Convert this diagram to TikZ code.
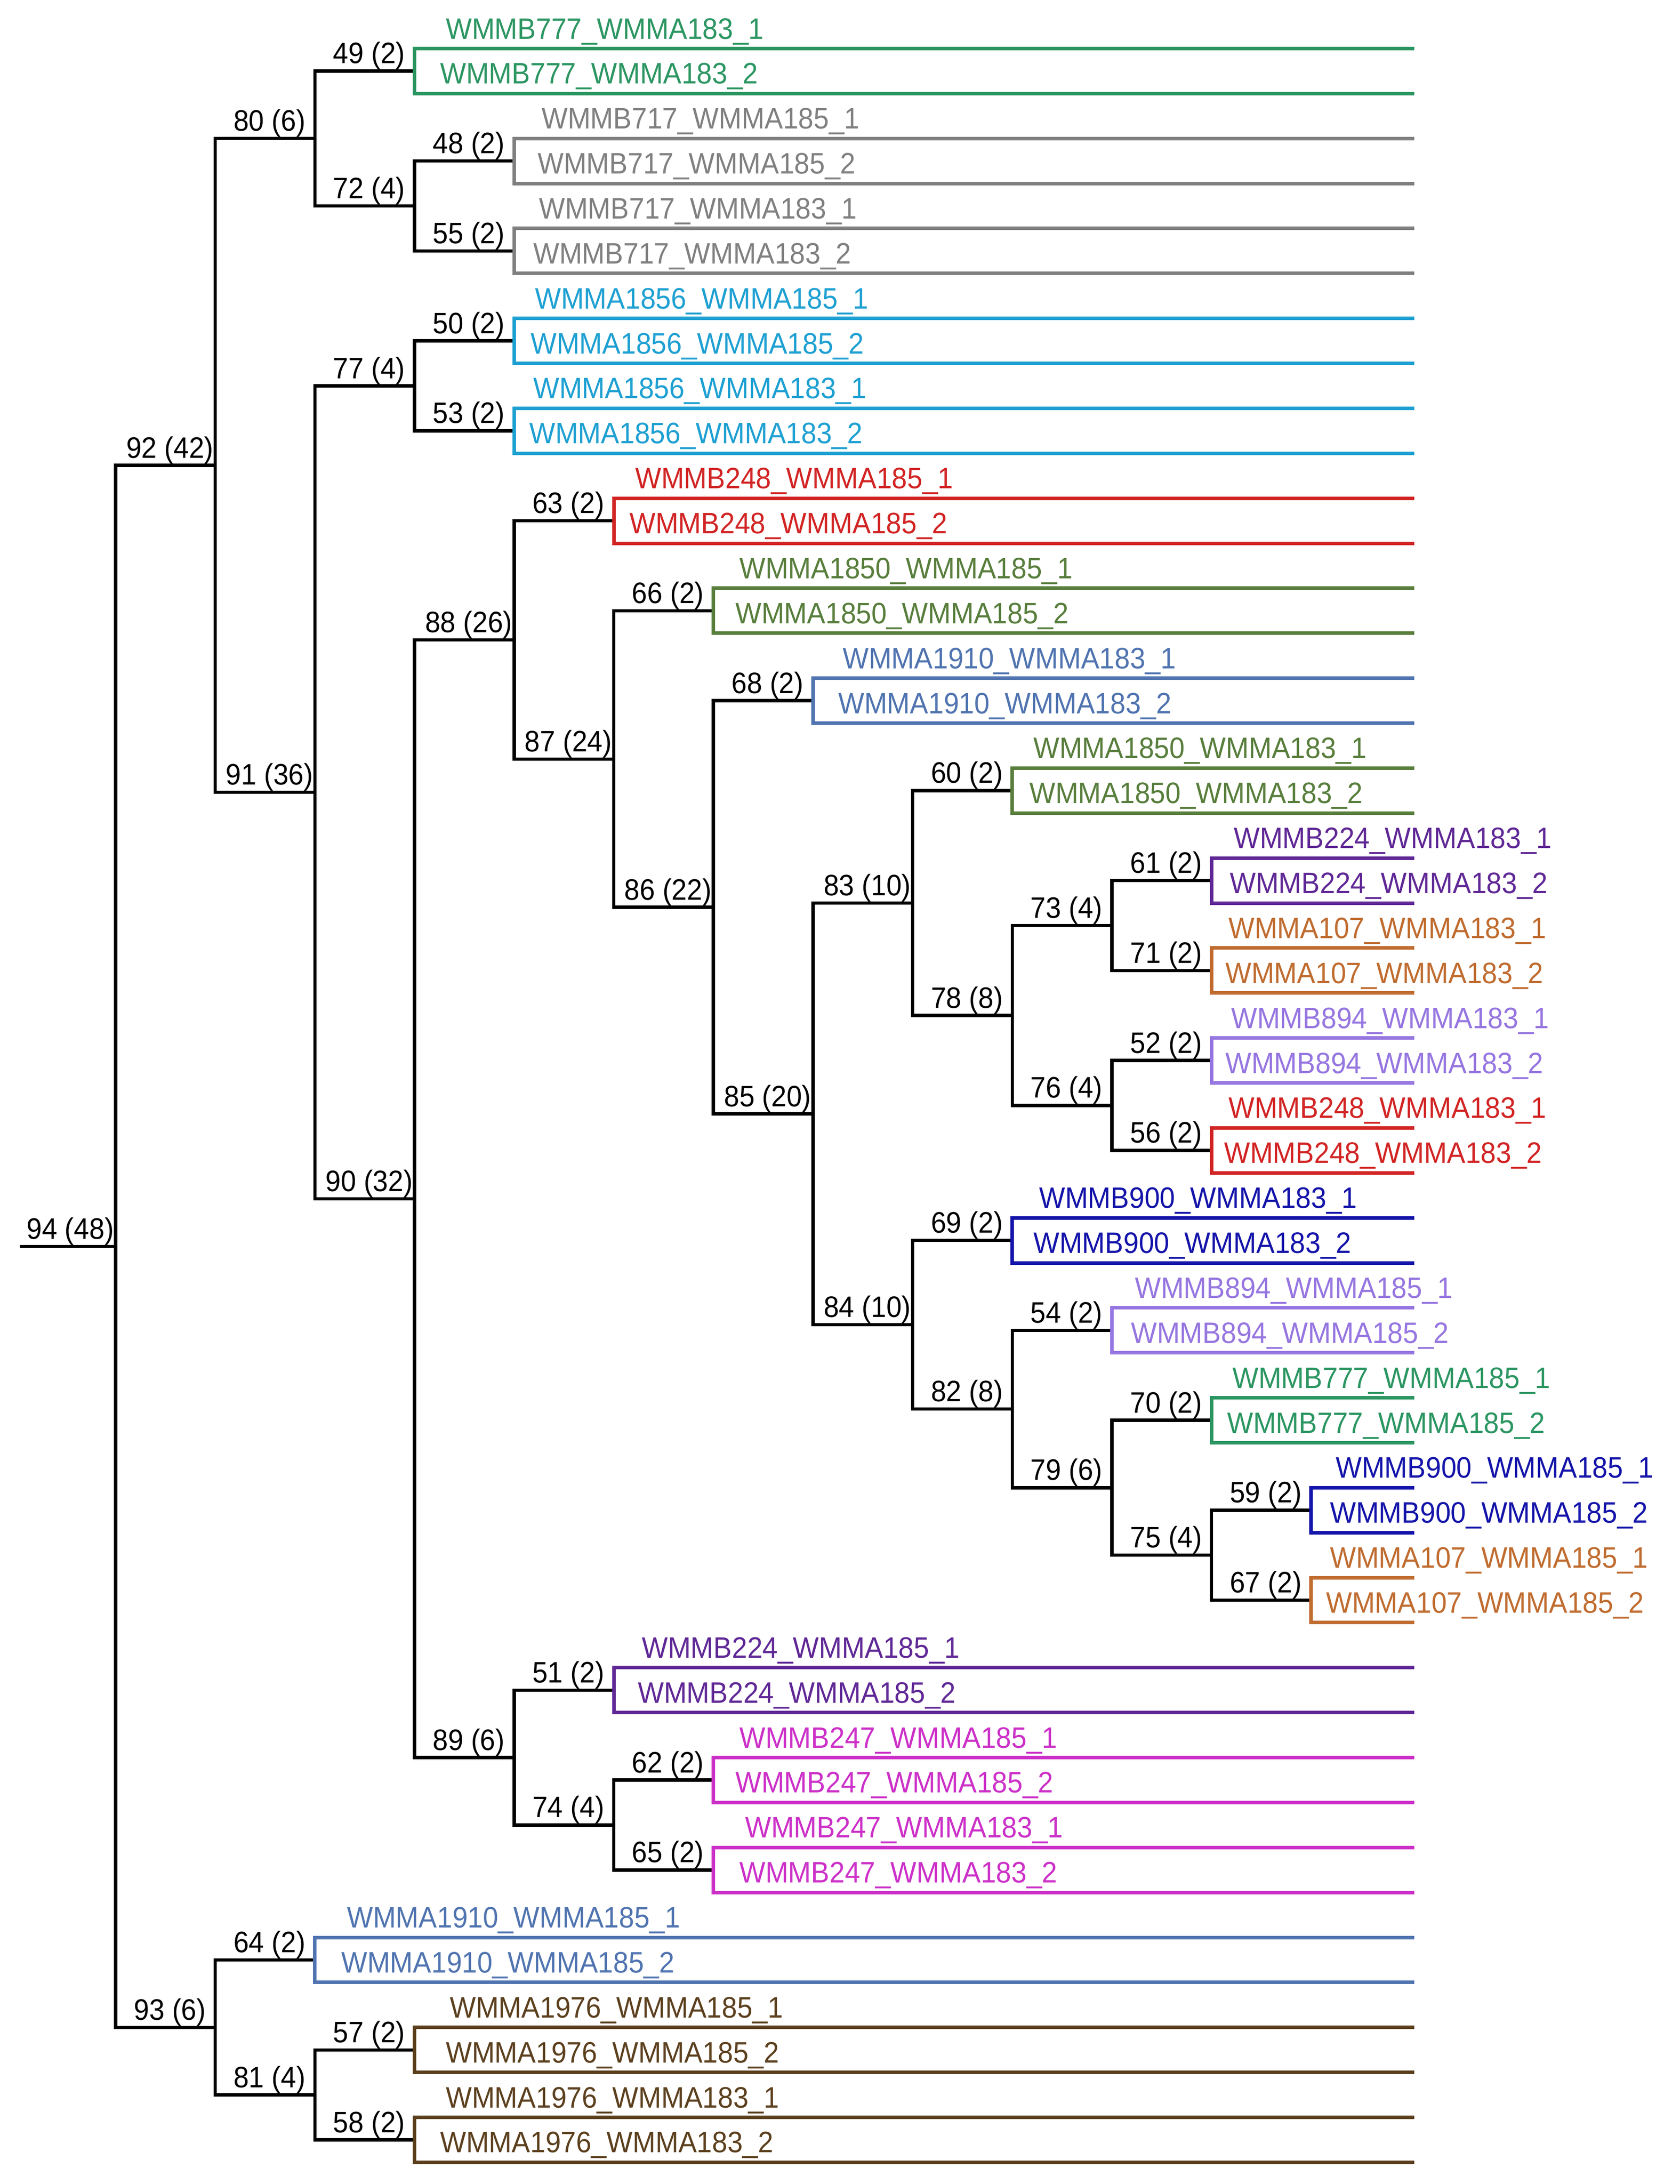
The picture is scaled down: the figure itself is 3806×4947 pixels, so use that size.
\documentclass[tikz,border=0pt]{standalone}
\usepackage{fontspec}
\setmainfont[FakeStretch=0.93]{Liberation Sans}
\definecolor{cBsss}{RGB}{44,150,98}
\definecolor{cBsoz}{RGB}{128,128,128}
\definecolor{cAefs}{RGB}{30,160,210}
\definecolor{cBtfe}{RGB}{210,36,36}
\definecolor{cAefz}{RGB}{88,126,60}
\definecolor{cAeoz}{RGB}{80,116,176}
\definecolor{cBttf}{RGB}{96,40,150}
\definecolor{cAozs}{RGB}{192,108,48}
\definecolor{cBeof}{RGB}{150,118,224}
\definecolor{cBozz}{RGB}{20,20,170}
\definecolor{cBtfs}{RGB}{204,48,200}
\definecolor{cAoos}{RGB}{92,64,30}
\newcommand{\ndpos}[3]{\coordinate (n#1) at ({262+225.7*#3},{110+(#2-1)*101.87});}
\newcommand{\ndlab}[2]{\node[nlab] (L#1) at ([xshift=-102.85pt,yshift=17pt]n#1) {#1 (#2)};}
\newcommand{\lfpos}[1]{\coordinate (l#1) at (3204,{110+(#1-1)*101.87});}
\newcommand{\lflab}[4]{\node[leaflab,text=#3] (t#1) at (#2,{110+(#1-1)*101.87-22}) {#4};}
\begin{document}
\begin{tikzpicture}[x=1pt,y=-1pt,
  tree/.style={draw=black,line width=7.5pt,line join=miter},
  leafln/.style={line width=8pt,line join=miter},
  nlab/.style={anchor=base,inner sep=0pt,font=\fontsize{67}{75}\selectfont,text=black},
  leaflab/.style={anchor=base west,inner sep=0pt,font=\fontsize{67}{75}\selectfont}]
\fill[white] (0,0) rectangle (3806,4947);
\useasboundingbox (0,0) rectangle (3806,4947);
% leaf coordinates
\foreach \i in {1,...,48} {\lfpos{\i}}
% pair nodes (index t, depth d)
\ndpos{49}{1.5}{3}
\ndpos{48}{3.5}{4}
\ndpos{55}{5.5}{4}
\ndpos{50}{7.5}{4}
\ndpos{53}{9.5}{4}
\ndpos{63}{11.5}{5}
\ndpos{66}{13.5}{6}
\ndpos{68}{15.5}{7}
\ndpos{60}{17.5}{9}
\ndpos{61}{19.5}{11}
\ndpos{71}{21.5}{11}
\ndpos{52}{23.5}{11}
\ndpos{56}{25.5}{11}
\ndpos{69}{27.5}{9}
\ndpos{54}{29.5}{10}
\ndpos{70}{31.5}{11}
\ndpos{59}{33.5}{12}
\ndpos{67}{35.5}{12}
\ndpos{51}{37.5}{5}
\ndpos{62}{39.5}{6}
\ndpos{65}{41.5}{6}
\ndpos{64}{43.5}{2}
\ndpos{57}{45.5}{3}
\ndpos{58}{47.5}{3}
% inner nodes
\ndpos{72}{4.5}{3}
\ndpos{80}{3}{2}
\ndpos{77}{8.5}{3}
\ndpos{73}{20.5}{10}
\ndpos{76}{24.5}{10}
\ndpos{78}{22.5}{9}
\ndpos{83}{20}{8}
\ndpos{75}{34.5}{11}
\ndpos{79}{33}{10}
\ndpos{82}{31.25}{9}
\ndpos{84}{29.375}{8}
\ndpos{85}{24.6875}{7}
\ndpos{86}{20.09375}{6}
\ndpos{87}{16.796875}{5}
\ndpos{88}{14.1484375}{4}
\ndpos{74}{40.5}{5}
\ndpos{89}{39}{4}
\ndpos{90}{26.57421875}{3}
\ndpos{91}{17.537109375}{2}
\ndpos{92}{10.2685546875}{1}
\ndpos{81}{46.5}{2}
\ndpos{93}{45}{1}
\ndpos{94}{27.63427734375}{0}
\coordinate (r0) at (45,{110+26.63427734375*101.87});
% black tree
\draw[tree] (r0) -- (n94);
\draw[tree] (n92) -| (n94) |- (n93);
\draw[tree] (n80) -| (n92) |- (n91);
\draw[tree] (n49) -| (n80) |- (n72);
\draw[tree] (n48) -| (n72) |- (n55);
\draw[tree] (n77) -| (n91) |- (n90);
\draw[tree] (n50) -| (n77) |- (n53);
\draw[tree] (n88) -| (n90) |- (n89);
\draw[tree] (n63) -| (n88) |- (n87);
\draw[tree] (n66) -| (n87) |- (n86);
\draw[tree] (n68) -| (n86) |- (n85);
\draw[tree] (n83) -| (n85) |- (n84);
\draw[tree] (n60) -| (n83) |- (n78);
\draw[tree] (n73) -| (n78) |- (n76);
\draw[tree] (n61) -| (n73) |- (n71);
\draw[tree] (n52) -| (n76) |- (n56);
\draw[tree] (n69) -| (n84) |- (n82);
\draw[tree] (n54) -| (n82) |- (n79);
\draw[tree] (n70) -| (n79) |- (n75);
\draw[tree] (n59) -| (n75) |- (n67);
\draw[tree] (n51) -| (n89) |- (n74);
\draw[tree] (n62) -| (n74) |- (n65);
\draw[tree] (n64) -| (n93) |- (n81);
\draw[tree] (n57) -| (n81) |- (n58);
% coloured leaf pairs
\draw[leafln,draw=cBsss] (l1) -| (n49) |- (l2);
\draw[leafln,draw=cBsoz] (l3) -| (n48) |- (l4);
\draw[leafln,draw=cBsoz] (l5) -| (n55) |- (l6);
\draw[leafln,draw=cAefs] (l7) -| (n50) |- (l8);
\draw[leafln,draw=cAefs] (l9) -| (n53) |- (l10);
\draw[leafln,draw=cBtfe] (l11) -| (n63) |- (l12);
\draw[leafln,draw=cAefz] (l13) -| (n66) |- (l14);
\draw[leafln,draw=cAeoz] (l15) -| (n68) |- (l16);
\draw[leafln,draw=cAefz] (l17) -| (n60) |- (l18);
\draw[leafln,draw=cBttf] (l19) -| (n61) |- (l20);
\draw[leafln,draw=cAozs] (l21) -| (n71) |- (l22);
\draw[leafln,draw=cBeof] (l23) -| (n52) |- (l24);
\draw[leafln,draw=cBtfe] (l25) -| (n56) |- (l26);
\draw[leafln,draw=cBozz] (l27) -| (n69) |- (l28);
\draw[leafln,draw=cBeof] (l29) -| (n54) |- (l30);
\draw[leafln,draw=cBsss] (l31) -| (n70) |- (l32);
\draw[leafln,draw=cBozz] (l33) -| (n59) |- (l34);
\draw[leafln,draw=cAozs] (l35) -| (n67) |- (l36);
\draw[leafln,draw=cBttf] (l37) -| (n51) |- (l38);
\draw[leafln,draw=cBtfs] (l39) -| (n62) |- (l40);
\draw[leafln,draw=cBtfs] (l41) -| (n65) |- (l42);
\draw[leafln,draw=cAeoz] (l43) -| (n64) |- (l44);
\draw[leafln,draw=cAoos] (l45) -| (n57) |- (l46);
\draw[leafln,draw=cAoos] (l47) -| (n58) |- (l48);
% node labels
\ndlab{94}{48}\ndlab{92}{42}\ndlab{93}{6}\ndlab{80}{6}\ndlab{91}{36}
\ndlab{49}{2}\ndlab{72}{4}\ndlab{48}{2}\ndlab{55}{2}\ndlab{77}{4}
\ndlab{50}{2}\ndlab{53}{2}\ndlab{90}{32}\ndlab{88}{26}\ndlab{89}{6}
\ndlab{63}{2}\ndlab{87}{24}\ndlab{66}{2}\ndlab{86}{22}\ndlab{68}{2}
\ndlab{85}{20}\ndlab{83}{10}\ndlab{84}{10}\ndlab{60}{2}\ndlab{78}{8}
\ndlab{73}{4}\ndlab{76}{4}\ndlab{61}{2}\ndlab{71}{2}\ndlab{52}{2}
\ndlab{56}{2}\ndlab{69}{2}\ndlab{82}{8}\ndlab{54}{2}\ndlab{79}{6}
\ndlab{70}{2}\ndlab{75}{4}\ndlab{59}{2}\ndlab{67}{2}\ndlab{51}{2}
\ndlab{74}{4}\ndlab{62}{2}\ndlab{65}{2}\ndlab{64}{2}\ndlab{81}{4}
\ndlab{57}{2}\ndlab{58}{2}
% leaf labels
\lflab{1}{1010}{cBsss}{WMMB777\_WMMA183\_1}
\lflab{2}{997}{cBsss}{WMMB777\_WMMA183\_2}
\lflab{3}{1227}{cBsoz}{WMMB717\_WMMA185\_1}
\lflab{4}{1218}{cBsoz}{WMMB717\_WMMA185\_2}
\lflab{5}{1221}{cBsoz}{WMMB717\_WMMA183\_1}
\lflab{6}{1208}{cBsoz}{WMMB717\_WMMA183\_2}
\lflab{7}{1212}{cAefs}{WMMA1856\_WMMA185\_1}
\lflab{8}{1202}{cAefs}{WMMA1856\_WMMA185\_2}
\lflab{9}{1208}{cAefs}{WMMA1856\_WMMA183\_1}
\lflab{10}{1199}{cAefs}{WMMA1856\_WMMA183\_2}
\lflab{11}{1439}{cBtfe}{WMMB248\_WMMA185\_1}
\lflab{12}{1426}{cBtfe}{WMMB248\_WMMA185\_2}
\lflab{13}{1675}{cAefz}{WMMA1850\_WMMA185\_1}
\lflab{14}{1666}{cAefz}{WMMA1850\_WMMA185\_2}
\lflab{15}{1909}{cAeoz}{WMMA1910\_WMMA183\_1}
\lflab{16}{1899}{cAeoz}{WMMA1910\_WMMA183\_2}
\lflab{17}{2341}{cAefz}{WMMA1850\_WMMA183\_1}
\lflab{18}{2332}{cAefz}{WMMA1850\_WMMA183\_2}
\lflab{19}{2795}{cBttf}{WMMB224\_WMMA183\_1}
\lflab{20}{2786}{cBttf}{WMMB224\_WMMA183\_2}
\lflab{21}{2783}{cAozs}{WMMA107\_WMMA183\_1}
\lflab{22}{2776}{cAozs}{WMMA107\_WMMA183\_2}
\lflab{23}{2789}{cBeof}{WMMB894\_WMMA183\_1}
\lflab{24}{2776}{cBeof}{WMMB894\_WMMA183\_2}
\lflab{25}{2783}{cBtfe}{WMMB248\_WMMA183\_1}
\lflab{26}{2773}{cBtfe}{WMMB248\_WMMA183\_2}
\lflab{27}{2354}{cBozz}{WMMB900\_WMMA183\_1}
\lflab{28}{2341}{cBozz}{WMMB900\_WMMA183\_2}
\lflab{29}{2571}{cBeof}{WMMB894\_WMMA185\_1}
\lflab{30}{2562}{cBeof}{WMMB894\_WMMA185\_2}
\lflab{31}{2792}{cBsss}{WMMB777\_WMMA185\_1}
\lflab{32}{2780}{cBsss}{WMMB777\_WMMA185\_2}
\lflab{33}{3026}{cBozz}{WMMB900\_WMMA185\_1}
\lflab{34}{3013}{cBozz}{WMMB900\_WMMA185\_2}
\lflab{35}{3013}{cAozs}{WMMA107\_WMMA185\_1}
\lflab{36}{3004}{cAozs}{WMMA107\_WMMA185\_2}
\lflab{37}{1454}{cBttf}{WMMB224\_WMMA185\_1}
\lflab{38}{1445}{cBttf}{WMMB224\_WMMA185\_2}
\lflab{39}{1675}{cBtfs}{WMMB247\_WMMA185\_1}
\lflab{40}{1666}{cBtfs}{WMMB247\_WMMA185\_2}
\lflab{41}{1688}{cBtfs}{WMMB247\_WMMA183\_1}
\lflab{42}{1675}{cBtfs}{WMMB247\_WMMA183\_2}
\lflab{43}{786}{cAeoz}{WMMA1910\_WMMA185\_1}
\lflab{44}{773}{cAeoz}{WMMA1910\_WMMA185\_2}
\lflab{45}{1019}{cAoos}{WMMA1976\_WMMA185\_1}
\lflab{46}{1010}{cAoos}{WMMA1976\_WMMA185\_2}
\lflab{47}{1010}{cAoos}{WMMA1976\_WMMA183\_1}
\lflab{48}{997}{cAoos}{WMMA1976\_WMMA183\_2}
\end{tikzpicture}
\end{document}
